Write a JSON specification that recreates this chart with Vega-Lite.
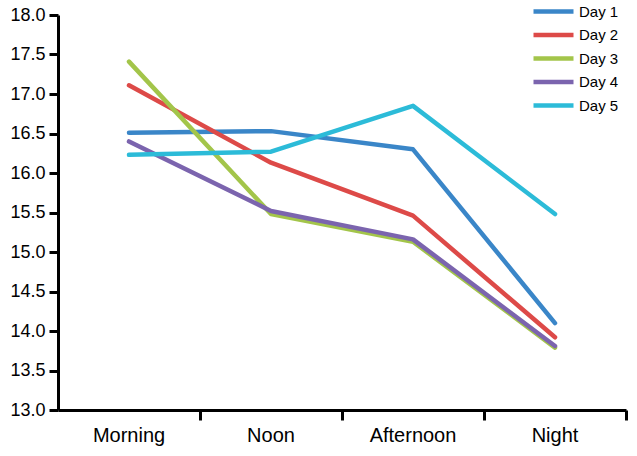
{
  "$schema": "https://vega.github.io/schema/vega-lite/v6.json",
  "autosize": {"type": "none"},
  "width": 568,
  "height": 395,
  "padding": {"left": 58, "top": 15, "right": 11, "bottom": 46},
  "config": {
    "view": {"stroke": null},
    "font": "Liberation Sans",
    "axis": {"grid": false, "domainColor": "#000", "tickColor": "#000", "labelColor": "#000", "domainWidth": 3, "tickWidth": 3, "title": null},
    "legend": {"labelFontSize": 15, "labelColor": "#000"}
  },
  "data": {
    "values": [
      {"time": "Morning", "day": "Day 1", "value": 16.51},
      {"time": "Noon", "day": "Day 1", "value": 16.53},
      {"time": "Afternoon", "day": "Day 1", "value": 16.30},
      {"time": "Night", "day": "Day 1", "value": 14.10},
      {"time": "Morning", "day": "Day 2", "value": 17.11},
      {"time": "Noon", "day": "Day 2", "value": 16.13},
      {"time": "Afternoon", "day": "Day 2", "value": 15.46},
      {"time": "Night", "day": "Day 2", "value": 13.92},
      {"time": "Morning", "day": "Day 3", "value": 17.41},
      {"time": "Noon", "day": "Day 3", "value": 15.48},
      {"time": "Afternoon", "day": "Day 3", "value": 15.13},
      {"time": "Night", "day": "Day 3", "value": 13.79},
      {"time": "Morning", "day": "Day 4", "value": 16.40},
      {"time": "Noon", "day": "Day 4", "value": 15.52},
      {"time": "Afternoon", "day": "Day 4", "value": 15.16},
      {"time": "Night", "day": "Day 4", "value": 13.81},
      {"time": "Morning", "day": "Day 5", "value": 16.23},
      {"time": "Noon", "day": "Day 5", "value": 16.27},
      {"time": "Afternoon", "day": "Day 5", "value": 16.85},
      {"time": "Night", "day": "Day 5", "value": 15.48}
    ]
  },
  "mark": {"type": "line", "strokeWidth": 4.5, "strokeCap": "round", "strokeJoin": "round"},
  "encoding": {
    "x": {
      "field": "time", "type": "nominal",
      "sort": ["Morning", "Noon", "Afternoon", "Night"],
      "bandPosition": 0.5,
      "scale": {"type": "band", "paddingInner": 0, "paddingOuter": 0},
      "axis": {"labelAngle": 0, "labelFontSize": 20, "tickSize": 10, "labelPadding": 5, "bandPosition": 1, "labelOffset": 0}
    },
    "y": {
      "field": "value", "type": "quantitative",
      "scale": {"domain": [13, 18], "nice": false, "zero": false},
      "axis": {"values": [13, 13.5, 14, 14.5, 15, 15.5, 16, 16.5, 17, 17.5, 18], "format": ".1f", "labelFontSize": 18, "tickSize": 9, "labelPadding": 4}
    },
    "color": {
      "field": "day", "type": "nominal",
      "scale": {"domain": ["Day 1", "Day 2", "Day 3", "Day 4", "Day 5"], "range": ["#3a86c8", "#dd4a48", "#a3c54a", "#7b64ae", "#2cbbd8"]},
      "legend": {
        "title": null, "orient": "none", "legendX": 488, "legendY": -11,
        "symbolType": "M-4,0H4", "symbolSize": 100, "symbolStrokeWidth": 4.5,
        "labelFontSize": 15, "labelOffset": 18, "rowPadding": 4.5, "labelColor": "#000"
      }
    }
  }
}
